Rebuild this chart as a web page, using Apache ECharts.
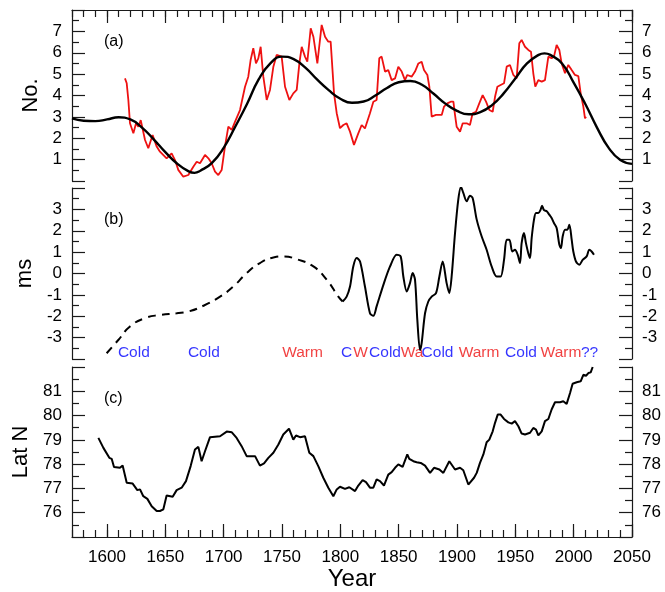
<!DOCTYPE html>
<html>
<head>
<meta charset="utf-8">
<script src="https://cdn.jsdelivr.net/npm/echarts@6/dist/echarts.min.js"></script>
<style>html,body{margin:0;padding:0;background:#fff}#c{width:665px;height:592px}</style>
</head>
<body>
<div id="c"></div>
<script>
// ---------- DATA ----------
// Panel (a): number (red, noisy) and fitted curve (black)
const aRedYears = [1615.4,1616.9,1618.3,1619.7,1621.1,1622.6,1624.9,1626.9,1628.9,1630.6,1632.6,1635.4,1639.1,1642.6,1645.4,1651.1,1655.4,1658.3,1661.1,1665.4,1669.7,1674,1676.9,1679.7,1684,1686.9,1689.7,1692.6,1695.4,1698.3,1701.1,1704,1706.9,1709.7,1714,1718.3,1721.1,1723.1,1725.4,1727.7,1729.7,1731.7,1734,1736.9,1739.7,1742.6,1745.4,1749.7,1752.6,1756.3,1759.7,1762.6,1764.9,1766.9,1769.7,1771.7,1774.6,1776.9,1780.3,1784,1786.9,1789.7,1791.7,1794.6,1796.9,1799.7,1802.6,1805.4,1808.3,1811.7,1815.4,1818.3,1821.1,1825.4,1828.3,1831.1,1833.4,1835.4,1838.3,1841.1,1844,1846.9,1849.7,1852.6,1855.4,1857.4,1861.1,1864,1866.9,1869.7,1871.7,1874.6,1876.3,1878.3,1882,1886.9,1888.9,1891.7,1894.6,1896.9,1898.3,1899.7,1902.6,1904.9,1908.3,1911.1,1913.4,1916.3,1919.1,1922,1924.9,1927.7,1930.6,1932.6,1934.6,1937.4,1940.3,1942.6,1945.4,1948.3,1951.1,1953.4,1955.4,1958.3,1961.1,1963.4,1965.4,1967.1,1969.7,1972.6,1975.4,1978.3,1981.1,1983.1,1985.4,1987.7,1989.7,1992.6,1995.4,1998.3,2001.1,2004,2006,2008.3,2009.7,2010.6];
const aRedValues = [4.80,4.57,3.79,2.70,2.78,2.23,2.70,2.54,2.85,2.93,1.92,1.53,2.15,1.61,1.37,1.06,1.29,0.98,0.52,0.20,0.28,0.67,0.90,0.83,1.22,1.06,0.83,0.44,0.28,0.52,1.61,2.54,2.39,2.77,3.32,4.41,4.88,5.66,6.21,5.50,5.74,6.28,4.88,3.79,4.26,5.35,5.90,5.82,4.41,3.79,4.10,4.26,5.50,6.28,5.82,5.58,7.14,6.75,5.50,7.30,6.75,6.52,6.52,4.10,3.17,2.47,2.62,2.70,2.31,1.69,2.23,2.62,2.46,3.17,3.71,3.79,5.74,5.82,5.12,5.19,4.72,4.80,5.35,5.12,4.72,4.96,4.88,5.12,5.50,5.58,5.19,4.96,4.41,3.01,3.09,3.09,3.48,3.63,3.71,3.71,3.09,2.54,2.31,2.70,2.70,2.62,3.17,3.24,3.63,4.02,3.71,3.32,3.24,3.94,4.41,4.49,4.57,5.35,5.43,4.96,4.80,6.44,6.60,6.28,6.13,6.05,5.04,4.41,4.72,4.65,4.72,5.82,5.74,5.82,6.36,6.13,5.50,5.04,5.43,5.19,4.96,4.91,4.10,3.48,2.93,3.01];
const aFitYears = [1570,1580,1590,1600,1610,1620,1630,1640,1650,1660,1670,1675,1680,1690,1700,1710,1720,1730,1740,1750,1760,1770,1780,1790,1800,1810,1820,1830,1840,1850,1860,1870,1880,1890,1900,1910,1920,1930,1940,1950,1960,1970,1975,1980,1990,2000,2010,2020,2030,2040,2050];
const aFitValues = [2.93,2.82,2.80,2.88,2.98,2.88,2.50,1.95,1.35,0.82,0.45,0.38,0.48,0.85,1.55,2.55,3.60,4.75,5.50,5.82,5.70,5.30,4.75,4.25,3.85,3.66,3.72,4.00,4.35,4.62,4.68,4.50,4.08,3.62,3.28,3.12,3.22,3.55,4.10,4.80,5.50,5.90,5.97,5.90,5.50,4.60,3.60,2.50,1.55,0.98,0.80];

// Panel (b): ms, reconstructed (dashed) and observed (solid)
const bDashYears = [1599.7,1609.7,1619.7,1632.6,1645.4,1659.7,1669.7,1682.6,1696.9,1708.3,1719.7,1731.1,1742.6,1751.1,1762.6,1776.9,1788.3,1798.3,1802];
const bDashValues = [-3.73,-3.11,-2.48,-2.09,-1.94,-1.86,-1.78,-1.51,-1.08,-0.61,0.02,0.49,0.75,0.80,0.67,0.33,-0.29,-1.08,-1.31];
const bSolidYears = [1802,1805.4,1808.3,1811.1,1814,1816.9,1821.1,1825.4,1828.3,1831.1,1836.9,1842.6,1848.3,1851.7,1854,1856.9,1859.7,1862,1864,1866,1868.3,1869.7,1872.6,1875.4,1878.3,1882,1884.9,1887.7,1891.1,1893.4,1895.4,1898.3,1901.1,1903.4,1905.4,1908.3,1911.1,1913.4,1916.9,1921.1,1925.4,1929.7,1934,1937.4,1940.3,1942.6,1944.9,1947.4,1949.7,1952,1954,1955.4,1957.4,1959.1,1961.1,1962.6,1964,1966,1967.7,1969.7,1971.7,1972.9,1974.6,1976.9,1979.1,1981.1,1983.1,1985.4,1987.7,1989.1,1990.6,1992.6,1994.6,1996.3,1998.3,1999.7,2002,2004.9,2007.7,2011.1,2013.4,2015.4,2017.4];
const bSolidValues = [-1.31,-1.08,-0.61,0.33,0.72,0.56,-0.61,-1.86,-1.98,-1.54,-0.53,0.33,0.88,0.80,-0.14,-0.84,-0.45,0.02,-0.29,-2.17,-3.58,-3.26,-1.86,-1.31,-1.08,-0.92,-0.14,0.56,-0.45,-0.92,-0.14,1.89,3.46,4.05,3.77,3.38,3.64,3.53,2.52,1.74,1.11,0.33,-0.14,-0.14,0.64,1.58,1.58,1.03,1.11,0.88,0.49,1.42,1.89,1.42,0.95,0.72,1.66,2.52,2.83,2.83,2.99,3.17,2.96,2.91,2.75,2.60,2.36,2.13,1.35,1.19,1.74,2.05,2.05,2.28,1.58,1.03,0.56,0.41,0.64,0.80,1.11,1.03,0.88];
const bPhaseTexts = ['Cold','Cold','Warm','C','W','Cold','Wa','Cold','Warm','Cold','Warm','??'];
const bPhaseKinds = ['cold','cold','warm','cold','warm','cold','warm','cold','warm','cold','warm','cold'];
const bPhaseYears = [1623,1683,1767.6,1805.3,1817.3,1838.3,1861.4,1883.3,1918.9,1954.9,1989.1,2013.6];
const bPhaseLevel = -3.72;

// Panel (c): latitude
const cYears = [1592.6,1596.9,1602,1604,1606,1611.1,1613.4,1616.9,1622,1626,1628.3,1631.1,1634.6,1638.3,1642.6,1645.4,1648.3,1651.1,1656.3,1659.7,1664,1667.7,1671.7,1675.4,1678.3,1681.1,1684,1688.3,1696.9,1702.6,1707,1711.1,1715.4,1719.7,1726.9,1731.1,1734.6,1738.3,1742.6,1746.9,1751.1,1756,1759.7,1762,1765.4,1769.7,1773.4,1776.9,1781.1,1785.4,1789.7,1794,1796.9,1799.7,1804,1807.7,1812.6,1815.4,1819.1,1822,1825.4,1828.3,1831.1,1834,1837.4,1841.1,1844,1846.9,1849.7,1853.4,1857.4,1859.1,1862.6,1865.4,1868.9,1872.6,1876.9,1880.3,1884.9,1888.3,1893.4,1898.3,1902.6,1905.4,1909.7,1914.6,1916.9,1919.7,1922.6,1925.4,1927.7,1930.6,1932.6,1934.9,1937.4,1940.3,1944,1946.9,1949.7,1952.6,1955.4,1958.3,1962.6,1965.4,1967.7,1969.7,1972.6,1975.4,1978.3,1981.1,1984,1988.3,1991.1,1994,1996.9,1999.1,2002.6,2006,2008.3,2010.6,2012.6,2014.6,2016.3];
const cValues = [79.08,78.67,78.26,78.22,77.88,77.85,77.94,77.23,77.20,76.93,76.96,76.68,76.57,76.27,76.07,76.07,76.14,76.71,76.66,76.93,77.03,77.30,77.92,78.60,78.71,78.12,78.53,79.11,79.15,79.34,79.31,79.08,78.74,78.33,78.33,77.94,78.03,78.26,78.47,78.81,79.22,79.46,79.01,79.18,79.11,79.15,78.47,78.33,77.92,77.44,77.03,76.68,76.96,77.07,76.98,77.05,76.89,77.12,77.34,77.26,77.03,77.03,77.37,77.30,77.12,77.57,77.67,77.85,77.99,77.89,78.40,78.22,78.12,78.08,78.05,77.94,77.64,77.85,77.78,77.64,78.12,77.78,77.85,77.75,77.16,77.44,77.64,78.05,78.40,78.90,79.01,79.35,79.70,80.04,80.04,79.86,79.72,79.67,79.77,79.56,79.26,79.22,79.29,79.49,79.42,79.18,79.35,79.77,79.86,80.25,80.55,80.55,80.59,80.48,80.93,81.31,81.37,81.41,81.68,81.64,81.75,81.78,82.0];

const xMajorTicks = [1600,1650,1700,1750,1800,1850,1900,1950,2000,2050];
const panelLabels = ['(a)','(b)','(c)'];
const axisNames = ['No.','ms','Lat N'];
const xName = 'Year';

// ---------- CHART ----------
const zip = (xs, ys) => xs.map((x, i) => [x, ys[i]]);
const FONT = '"Liberation Sans", Arial, Helvetica, sans-serif';
const INK = '#1a1a1a';
const RED = '#ee1111';
const BLUE = '#0000ff';

const grids = [
  {left: 72, right: 33, top: 10, height: 171},
  {left: 72, right: 33, top: 188, height: 171},
  {left: 72, right: 33, top: 367, height: 170}
];

const tickStyle = {color: INK, width: 1.2};
// minor x axis: ticks every 10 years, with the axis line
function xMinorAxis(gi, pos) {
  return {
    gridIndex: gi, type: 'value', position: pos, min: 1570, max: 2050, interval: 10,
    axisLine: {show: true, onZero: false, lineStyle: {color: INK, width: 1.2}},
    axisTick: {show: true, inside: true, length: 7, lineStyle: tickStyle},
    splitLine: {show: false}, axisLabel: {show: false}
  };
}
// major x axis: ticks every 50 years at custom values
function xMajorAxis(gi, pos, withLabels) {
  const cfg = {
    gridIndex: gi, type: 'value', position: pos, min: 1570, max: 2050,
    axisLine: {show: false, onZero: false},
    axisTick: {show: true, inside: true, length: 13, lineStyle: tickStyle, customValues: xMajorTicks},
    splitLine: {show: false},
    axisLabel: {show: withLabels, margin: 12, fontFamily: FONT, fontSize: 17, color: '#000',
      customValues: xMajorTicks, formatter: v => String(v)}
  };
  if (withLabels) {
    cfg.name = xName; cfg.nameLocation = 'middle'; cfg.nameGap = 26;
    cfg.nameTextStyle = {fontFamily: FONT, fontSize: 24, color: '#000'};
  }
  return cfg;
}
function yAxisCfg(gi, pos, min, max, name, gap) {
  return {
    gridIndex: gi, type: 'value', position: pos, min: min, max: max, interval: 1,
    name: pos === 'left' ? name : '', nameLocation: 'middle', nameGap: gap,
    nameTextStyle: {fontFamily: FONT, fontSize: 22, color: '#000'},
    axisLine: {show: true, onZero: false, lineStyle: {color: INK, width: 1.2}},
    axisTick: {show: true, inside: true, length: 13, lineStyle: tickStyle},
    minorTick: {show: true, splitNumber: 2, length: 7, lineStyle: tickStyle},
    splitLine: {show: false}, minorSplitLine: {show: false},
    axisLabel: {show: true, margin: 10, fontFamily: FONT, fontSize: 17, color: '#000',
      formatter: v => (v === min || v === max) ? '' : String(v)}
  };
}

const option = {
  animation: false,
  backgroundColor: '#fff',
  grid: grids,
  xAxis: [
    xMinorAxis(0, 'top'),          // 0
    xMajorAxis(0, 'top', false),   // 1
    Object.assign(xMinorAxis(1, 'bottom'), {show: false}), // 2
    xMinorAxis(2, 'bottom'),       // 3
    xMajorAxis(2, 'bottom', true)  // 4
  ],
  yAxis: [
    yAxisCfg(0, 'left', 0, 8, axisNames[0], 26),
    yAxisCfg(0, 'right', 0, 8, axisNames[0], 26),
    yAxisCfg(1, 'left', -4, 4, axisNames[1], 32),
    yAxisCfg(1, 'right', -4, 4, axisNames[1], 32),
    yAxisCfg(2, 'left', 75, 82, axisNames[2], 37),
    yAxisCfg(2, 'right', 75, 82, axisNames[2], 37)
  ],
  graphic: panelLabels.map((t, i) => ({
    type: 'text', left: 104, top: grids[i].top + 24,
    style: {text: t, font: '16px ' + FONT, fill: '#000'}
  })),
  series: [
    {type: 'line', xAxisIndex: 0, yAxisIndex: 0, data: zip(aRedYears, aRedValues),
     showSymbol: false, lineStyle: {color: RED, width: 1.8}, itemStyle: {color: RED}, z: 2},
    {type: 'line', xAxisIndex: 0, yAxisIndex: 0, data: zip(aFitYears, aFitValues), smooth: true,
     showSymbol: false, lineStyle: {color: '#000', width: 2.4}, itemStyle: {color: '#000'}, z: 3},
    {type: 'line', xAxisIndex: 2, yAxisIndex: 2, data: zip(bDashYears, bDashValues), smooth: true,
     showSymbol: false, lineStyle: {color: '#000', width: 2, type: [8, 6]}, itemStyle: {color: '#000'}},
    {type: 'line', xAxisIndex: 2, yAxisIndex: 2, data: zip(bSolidYears, bSolidValues), smooth: 0.3,
     showSymbol: false, lineStyle: {color: '#000', width: 2}, itemStyle: {color: '#000'}},
    {type: 'scatter', xAxisIndex: 2, yAxisIndex: 2, symbolSize: 0, silent: true,
     data: bPhaseYears.map((x, i) => ({value: [x, bPhaseLevel], name: bPhaseTexts[i],
       label: {color: bPhaseKinds[i] === 'warm' ? RED : BLUE}})),
     label: {show: true, position: [0, 0], align: 'center', verticalAlign: 'middle',
       fontFamily: FONT, fontSize: 15.5, formatter: p => p.name}},
    {type: 'line', xAxisIndex: 3, yAxisIndex: 4, data: zip(cYears, cValues),
     showSymbol: false, lineStyle: {color: '#000', width: 2}, itemStyle: {color: '#000'}}
  ]
};

const chart = echarts.init(document.getElementById('c'), null, {renderer: 'canvas'});
chart.setOption(option);
</script>
</body>
</html>
